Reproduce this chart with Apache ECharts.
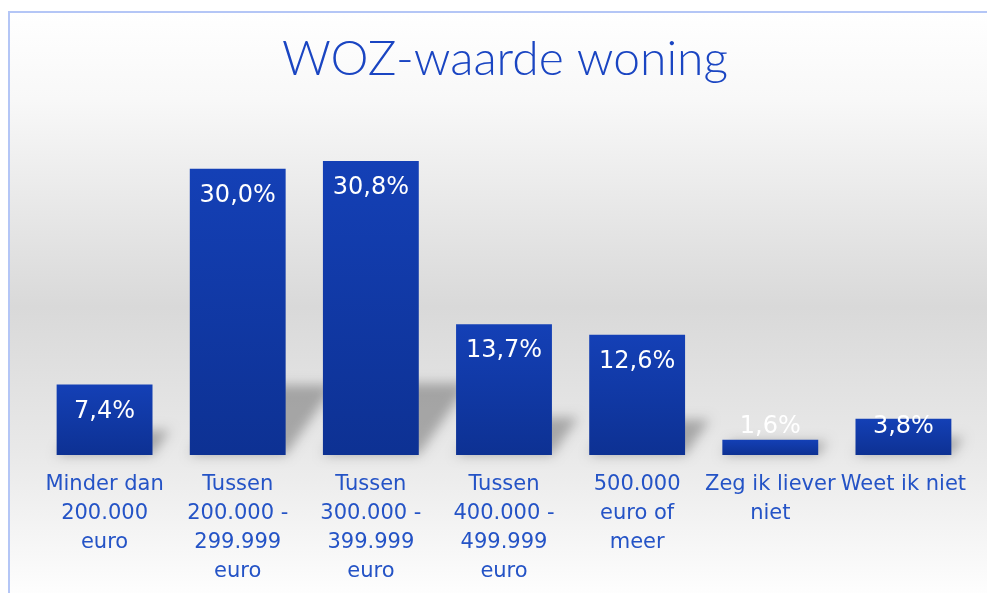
<!DOCTYPE html>
<html lang="nl">
<head>
    <meta charset="UTF-8">
    <title>WOZ-waarde woning</title>
    <script src="https://cdn.jsdelivr.net/npm/echarts@6/dist/echarts.min.js"></script>
    <style>
        html, body { margin: 0; padding: 0; background: #ffffff; }
        #chart { width: 987px; height: 593px; }
    </style>
</head>
<body>
<div id="chart"></div>
<script>
    // categorieën en percentages
    var categories = [
        'Minder dan\n200.000\neuro',
        'Tussen\n200.000 -\n299.999\neuro',
        'Tussen\n300.000 -\n399.999\neuro',
        'Tussen\n400.000 -\n499.999\neuro',
        '500.000\neuro of\nmeer',
        'Zeg ik liever\nniet',
        'Weet ik niet'
    ];
    var percentages = [7.4, 30.0, 30.8, 13.7, 12.6, 1.6, 3.8];

    var chart = echarts.init(document.getElementById('chart'));

    var barData = percentages.map(function (v) {
        // kleine balken: label onderin plaatsen
        if (v < 5) {
            return { value: v, label: { position: 'insideBottom', distance: 16 } };
        }
        return v;
    });
    var shadowData = percentages.map(function (v, i) { return [i, v]; });

    var option = {
        animation: false,
        graphic: [{
            type: 'rect',
            z: -10,
            shape: { x: 9, y: 12, width: 990, height: 590 },
            style: {
                stroke: '#b4c6f6',
                lineWidth: 2,
                fill: new echarts.graphic.LinearGradient(0, 0, 0, 1, [
                    { offset: 0, color: '#ffffff' },
                    { offset: 0.15, color: '#f8f8f8' },
                    { offset: 0.5, color: '#d9d9d9' },
                    { offset: 0.75, color: '#e9e9e9' },
                    { offset: 1, color: '#ffffff' }
                ])
            }
        }],
        title: {
            text: 'WOZ-waarde woning',
            left: 505,
            top: 36,
            padding: 0,
            textAlign: 'center',
            textStyle: {
                fontFamily: 'Lato',
                fontSize: 48,
                fontWeight: 300,
                color: '#1a45c2'
            }
        },
        grid: {
            left: 38,
            right: 17,
            top: 121,
            bottom: 138
        },
        xAxis: {
            type: 'category',
            data: categories,
            axisLine: { show: false },
            axisTick: { show: false },
            axisLabel: {
                interval: 0,
                margin: 15,
                fontFamily: 'DejaVu Sans',
                fontSize: 21,
                lineHeight: 29,
                color: '#2453c6'
            }
        },
        yAxis: {
            type: 'value',
            min: 0,
            max: 35,
            show: false,
            splitLine: { show: false }
        },
        series: [{
            // vage schaduw achter de balken (vorm buiten beeld, alleen schaduw zichtbaar)
            type: 'custom',
            z: 1,
            silent: true,
            data: shadowData,
            encode: { x: 0, y: 1 },
            renderItem: function (params, api) {
                var idx = api.value(0);
                var top = api.coord([idx, api.value(1)]);
                var base = api.coord([idx, 0]);
                var band = api.size([1, 0])[0];
                var w = band * 0.72;
                var h = base[1] - top[1];
                var sh = 10 + 0.21 * h;
                var dx = sh * 0.7;
                var off = 2000;
                var x0 = base[0] - w / 2 - off, x1 = base[0] + w / 2 - off, y = base[1];
                return {
                    type: 'polygon',
                    shape: { points: [[x0, y], [x1, y], [x1 + dx, y - sh], [x0 + dx, y - sh]] },
                    style: {
                        fill: '#000',
                        shadowBlur: 12,
                        shadowOffsetX: off,
                        shadowColor: 'rgba(0,0,0,0.28)'
                    }
                };
            }
        }, {
            type: 'bar',
            z: 2,
            data: barData,
            barWidth: '72%',
            itemStyle: {
                color: new echarts.graphic.LinearGradient(0, 0, 0, 1, [
                    { offset: 0, color: '#1440b6' },
                    { offset: 1, color: '#0d3193' }
                ])
            },
            label: {
                show: true,
                position: 'insideTop',
                distance: 15,
                fontFamily: 'DejaVu Sans',
                fontSize: 24,
                color: '#ffffff',
                formatter: function (p) {
                    return p.value.toFixed(1).replace('.', ',') + '%';
                }
            }
        }]
    };

    chart.setOption(option);
</script>
</body>
</html>
